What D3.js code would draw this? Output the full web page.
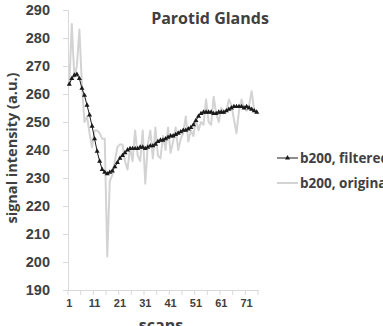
<!DOCTYPE html>
<html>
<head>
<meta charset="utf-8">
<script src="https://cdn.jsdelivr.net/npm/d3@7"></script>
<style>
  body { margin: 0; background: #fff; }
  svg { display: block; font-family: "Open Sans", sans-serif; font-weight: 700; }
</style>
</head>
<body>
<div id="chart"></div>
<script>
var scans = d3.range(1, 76);

var filtered = [
  263.5, 265.5, 266.7, 267, 265.5, 262, 259.5, 256, 252.5, 248.5,
  244, 239.5, 236, 233, 232, 231.5, 232, 232.5, 234, 235.5,
  237, 238, 239, 240, 240.5, 240.5, 240.5, 240.5, 241, 241,
  240.5, 241, 241.5, 241.5, 242, 243, 243.5, 243.5, 244, 244.5,
  245, 245, 245.5, 246, 246.5, 247, 247, 247.5, 248, 249,
  250.5, 252, 253, 253.5, 253.5, 253.5, 253.5, 253, 253, 253.5,
  253.5, 253.5, 254, 254.5, 255, 255.5, 255.5, 255.5, 255.5, 255,
  255.5, 255, 254.5, 254, 253.5
];

var original = [
  263, 285, 266, 270, 283, 263, 250, 252, 246, 241,
  247, 247, 246, 244, 244, 202, 229, 231, 236, 241,
  242, 242, 236, 233, 241, 236, 247, 238, 236, 247,
  228, 242, 247, 237, 248, 238, 237, 245, 240, 248,
  239, 243, 248, 240, 244, 246, 252, 243, 247, 245,
  251, 247, 250, 249, 258, 250, 249, 259, 253, 250,
  255, 253, 254, 258, 256, 251, 246, 254, 258, 255,
  254, 256, 261, 254, 253
];

var yTicks = d3.range(190, 291, 10);
var xLabels = [1, 11, 21, 31, 41, 51, 61, 71];
var seriesNames = ["b200, filtered", "b200, original"];

var width = 383, height = 326;
var textColor = "#404040";

var svg = d3.select("#chart").append("svg")
  .attr("width", width)
  .attr("height", height);

var x = d3.scaleBand().domain(scans).range([68, 258]).paddingInner(0).paddingOuter(0);
var y = d3.scaleLinear().domain([190, 290]).range([290, 10]);
var cx = function(i) { return x(i) + x.bandwidth() / 2; };

// y axis
var yAxis = svg.append("g")
  .attr("transform", "translate(68,0)")
  .call(d3.axisLeft(y).tickValues(yTicks).tickSize(5).tickPadding(13));
yAxis.select(".domain").attr("stroke", "#d9d9d9");
yAxis.selectAll(".tick line").attr("stroke", "#d9d9d9");
yAxis.selectAll("text").attr("fill", textColor).style("font-size", "14.5px").style("font-weight", 700);

// x axis (labels only, ticks between categories)
var xAxis = svg.append("g")
  .attr("transform", "translate(0,290)")
  .call(d3.axisBottom(x).tickValues(xLabels).tickSize(0).tickPadding(9));
xAxis.select(".domain").attr("stroke", "#d9d9d9");
xAxis.selectAll("text").attr("fill", textColor).style("font-size", "11px").style("font-weight", 700);

var boundaries = d3.range(0, 76, 5);
svg.append("g").selectAll("line")
  .data(boundaries)
  .join("line")
  .attr("x1", function(b) { return b === 75 ? x(75) + x.bandwidth() : x(b + 1); })
  .attr("x2", function(b) { return b === 75 ? x(75) + x.bandwidth() : x(b + 1); })
  .attr("y1", 290)
  .attr("y2", 295)
  .attr("stroke", "#d9d9d9");

// original series
var line = d3.line()
  .x(function(d, i) { return cx(scans[i]); })
  .y(function(d) { return y(d); });

svg.append("path")
  .datum(original)
  .attr("fill", "none")
  .attr("stroke", "#d3d3d3")
  .attr("stroke-width", 2)
  .attr("stroke-linejoin", "round")
  .attr("d", line);

// filtered series
svg.append("path")
  .datum(filtered)
  .attr("fill", "none")
  .attr("stroke", "#1a1a1a")
  .attr("stroke-width", 1)
  .attr("d", line);

var tri = d3.symbol().type(d3.symbolTriangle).size(11);
svg.append("g").selectAll("path")
  .data(filtered)
  .join("path")
  .attr("transform", function(d, i) { return "translate(" + cx(scans[i]) + "," + y(d) + ")"; })
  .attr("d", tri)
  .attr("fill", "#1a1a1a");

// title
svg.append("text")
  .attr("x", 210)
  .attr("y", 24)
  .attr("text-anchor", "middle")
  .attr("fill", textColor)
  .style("font-size", "16px")
  .text("Parotid Glands");

// axis titles
svg.append("text")
  .attr("transform", "translate(17,148) rotate(-90)")
  .attr("text-anchor", "middle")
  .attr("fill", textColor)
  .style("font-size", "14.5px")
  .text("signal intensity (a.u.)");

svg.append("text")
  .attr("x", 161)
  .attr("y", 331)
  .attr("text-anchor", "middle")
  .attr("fill", textColor)
  .style("font-size", "16px")
  .text("scans");

// legend
var legend = svg.append("g");
var legendY = [158, 183];
legend.selectAll("line")
  .data(seriesNames)
  .join("line")
  .attr("x1", 277).attr("x2", 298)
  .attr("y1", function(d, i) { return legendY[i]; })
  .attr("y2", function(d, i) { return legendY[i]; })
  .attr("stroke", function(d, i) { return i === 0 ? "#1a1a1a" : "#d3d3d3"; })
  .attr("stroke-width", function(d, i) { return i === 0 ? 1 : 2; });
legend.append("path")
  .attr("transform", "translate(287.5," + legendY[0] + ")")
  .attr("d", tri)
  .attr("fill", "#1a1a1a");
legend.selectAll("text")
  .data(seriesNames)
  .join("text")
  .attr("x", 300)
  .attr("y", function(d, i) { return legendY[i] + 5; })
  .attr("fill", textColor)
  .style("font-size", "13.5px")
  .text(function(d) { return d; });
</script>
</body>
</html>
